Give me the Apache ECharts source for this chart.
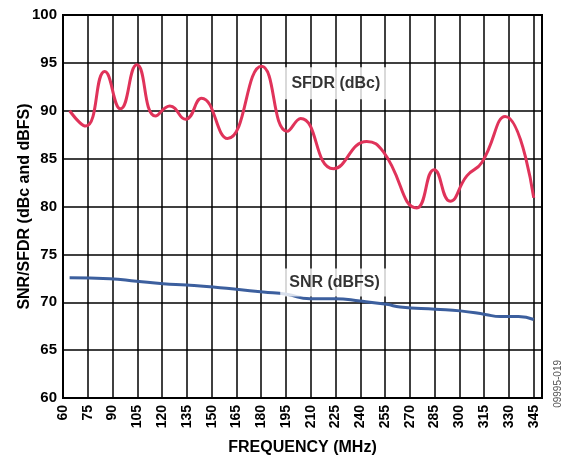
<!DOCTYPE html>
<html><head><meta charset="utf-8">
<script src="https://cdn.jsdelivr.net/npm/echarts@6/dist/echarts.min.js"></script>
<style>html,body{margin:0;padding:0;background:#fff}#c{width:569px;height:460px}</style>
</head><body><div id="c"></div>
<script>
const xTicks = [60,75,90,105,120,135,150,165,180,195,210,225,240,255,270,285,300,315,330,345];
const yTicks = [60,65,70,75,80,85,90,95,100];
const sfdrFreq = [64,73.8,85.3,94.8,104.7,116,124.7,134.2,143.9,159.6,180.2,195.8,203.9,223.7,243.9,254,274.2,284.7,294.4,304.5,313.6,327.7,345];
const sfdrVals = [90.0,88.4,94.1,90.2,94.8,89.45,90.5,89.1,91.3,87.1,94.65,87.85,89.2,83.95,86.8,85.7,79.85,83.85,80.55,83.2,84.6,89.4,80.9];
const snrFreq = [64,88.3,104.5,120.6,134.8,150.9,165,181.2,195.4,209.5,224.7,239.8,256,264.1,285.3,300.5,315.6,324.7,335.8,345];
const snrVals = [72.57,72.46,72.2,71.94,71.8,71.6,71.35,71.07,70.83,70.37,70.37,70.13,69.78,69.5,69.26,69.1,68.73,68.5,68.5,68.2];
const labels = [{text:'SFDR (dBc)', x:225.2, y:92.87, pad:[8,9]},{text:'SNR (dBFS)', x:224.4, y:72.07, pad:[6,9]}];

const chart = echarts.init(document.getElementById('c'));
const font = 'Liberation Sans, Arial, sans-serif';
function pairs(xs, ys){ return xs.map((x,i)=>[x, ys[i]]); }
chart.setOption({
  animation:false,
  grid:{left:63, top:15, right:27, bottom:62, outerBoundsMode:'none', containLabel:false,
    show:true, borderColor:'#000', borderWidth:2, backgroundColor:'transparent'},
  xAxis:{type:'value', min:60, max:350, interval:15,
    name:'FREQUENCY (MHz)', nameLocation:'middle', nameGap:42,
    nameTextStyle:{fontFamily:font, fontWeight:'bold', fontSize:16, color:'#000'},
    axisLine:{lineStyle:{color:'#000', width:2}}, axisTick:{show:false},
    axisLabel:{rotate:90, showMaxLabel:false, fontFamily:font, fontWeight:'bold', fontSize:14, color:'#000', margin:7},
    splitLine:{show:true, lineStyle:{color:'#000', width:1.5}}},
  yAxis:{type:'value', min:60, max:100, interval:5,
    name:'SNR/SFDR (dBc and dBFS)', nameLocation:'middle', nameGap:30, nameMoveOverlap:false,
    nameTextStyle:{fontFamily:font, fontWeight:'bold', fontSize:16, color:'#000'},
    axisLine:{lineStyle:{color:'#000', width:2}}, axisTick:{show:false},
    axisLabel:{fontFamily:font, fontWeight:'bold', fontSize:15, color:'#000', margin:6},
    splitLine:{show:true, lineStyle:{color:'#000', width:1.5}}},
  series:[
    {type:'line', data:pairs(sfdrFreq,sfdrVals), smooth:0.5, showSymbol:false,
     lineStyle:{color:'#E0335A', width:3}, z:3},
    {type:'line', data:pairs(snrFreq,snrVals), smooth:0.5, showSymbol:false,
     lineStyle:{color:'#3C5F9E', width:3}, z:3},
    {type:'scatter', data:labels.map(l=>({value:[l.x,l.y], name:l.text, label:{padding:l.pad}})), symbolSize:0, z:5,
     label:{show:true, position:'inside', formatter:p=>p.name, fontFamily:font, fontWeight:'bold', fontSize:16, color:'#000',
       backgroundColor:'#fff'}}
  ],
  graphic:[{type:'text', right:6, top:360, rotation:Math.PI/2, style:{text:'09995-019', fontFamily:font, fontSize:10, fill:'#555'}}]
});
</script></body></html>
